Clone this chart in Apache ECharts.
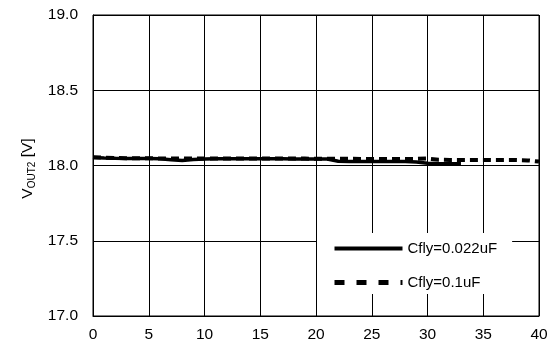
<!DOCTYPE html>
<html><head><meta charset="utf-8">
<script src="https://cdn.jsdelivr.net/npm/echarts@6/dist/echarts.min.js"></script>
<style>html,body{margin:0;padding:0;background:#fff}#c{width:555px;height:352px}</style>
</head><body><div id="c"></div>
<script>
const xA = [0,1,2,3,4,5,6,7,8,9,10,11,12,13,14,15,16,17,18,19,20,21,22,23,24,25,26,27,28,29,30,31,32,33];
const yA = [18.053,18.050,18.048,18.047,18.047,18.046,18.045,18.038,18.034,18.040,18.044,18.045,18.045,18.045,18.045,18.045,18.045,18.045,18.044,18.044,18.044,18.043,18.028,18.027,18.027,18.027,18.027,18.027,18.026,18.024,18.015,18.012,18.012,18.012];
const xB = [0,1,2,3,4,5,6,7,8,9,10,11,12,13,14,15,16,17,18,19,20,21,22,23,24,25,26,27,28,29,30,31,32,33,34,35,36,37,38,39,40];
const yB = [18.055,18.052,18.050,18.049,18.048,18.048,18.047,18.047,18.047,18.046,18.046,18.046,18.046,18.046,18.046,18.046,18.046,18.046,18.046,18.046,18.045,18.045,18.045,18.045,18.044,18.044,18.044,18.044,18.044,18.044,18.046,18.038,18.037,18.037,18.037,18.037,18.036,18.036,18.036,18.034,18.026];
const nameA = 'Cfly=0.022uF';
const nameB = 'Cfly=0.1uF';
const xTicks = {min:0, max:40, interval:5};
const yTicks = {min:17, max:19, interval:0.5};

const chart = echarts.init(document.getElementById('c'));
const font = 'Liberation Sans, Arial, sans-serif';
chart.setOption({
  animation:false,
  grid:{left:93,right:16,top:15,bottom:36,show:true,borderColor:'#000',borderWidth:1},
  legend:{
    orient:'vertical', left:317, top:233, padding:[8,15,4,15], itemGap:19,
    backgroundColor:'#fff', itemWidth:68, itemHeight:18,
    itemStyle:{opacity:0},
    textStyle:{fontFamily:font,fontSize:15,color:'#000'},
    data:[
      {name:nameA, lineStyle:{width:4,type:'solid'}},
      {name:nameB, lineStyle:{width:5,type:[10,12]}}
    ]
  },
  xAxis:{type:'value',min:xTicks.min,max:xTicks.max,interval:xTicks.interval,
    axisLine:{lineStyle:{color:'#000'}},axisTick:{show:false},
    axisLabel:{fontFamily:font,fontSize:15.5,color:'#000',margin:11},
    splitLine:{lineStyle:{color:'#000',width:1}}},
  yAxis:{type:'value',min:yTicks.min,max:yTicks.max,interval:yTicks.interval,
    axisLine:{lineStyle:{color:'#000'}},axisTick:{show:false},
    axisLabel:{fontFamily:font,fontSize:15.5,color:'#000',margin:15,formatter:v=>v.toFixed(1)},
    splitLine:{lineStyle:{color:'#000',width:1}},
    name:'{a|V}{b|OUT2}{a| [V]}',nameLocation:'middle',nameGap:50,
    nameTextStyle:{padding:[0,6,0,0],rich:{
      a:{fontFamily:font,fontSize:15.5,color:'#000',lineHeight:18},
      b:{fontFamily:font,fontSize:10,color:'#000',verticalAlign:'bottom',lineHeight:18,padding:[6,0,0,0]}
    }}},
  series:[
    {name:nameA,type:'line',symbol:'none',data:xA.map((x,i)=>[x,yA[i]]),
      lineStyle:{color:'#000',width:3.5,type:'solid'},itemStyle:{color:'#000'}},
    {name:nameB,type:'line',symbol:'none',data:xB.map((x,i)=>[x,yB[i]]),
      lineStyle:{color:'#000',width:4,type:[8,5]},itemStyle:{color:'#000'}}
  ]
});
</script></body></html>
